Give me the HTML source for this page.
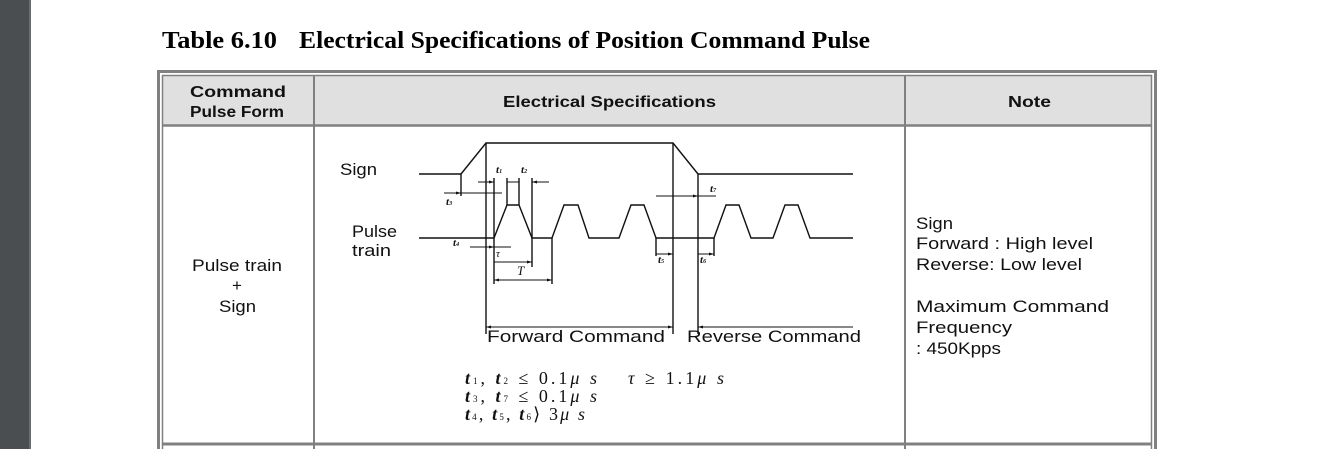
<!DOCTYPE html>
<html><head><meta charset="utf-8"><style>
html,body{margin:0;padding:0;background:#fff;}
svg{display:block;}
.s{font-family:"Liberation Sans",sans-serif;fill:#111;}
.i{font-family:"Liberation Serif",serif;font-style:italic;font-weight:bold;fill:#111;}
</style></head><body>
<svg width="1340" height="449" viewBox="0 0 1340 449" xmlns="http://www.w3.org/2000/svg">
<defs>
<marker id="a" viewBox="0 0 10 10" refX="10" refY="5" markerWidth="7" markerHeight="5" orient="auto-start-reverse"><path d="M0,2 L10,5 L0,8 z" fill="#111"/></marker>
</defs>
<rect x="0" y="0" width="29" height="449" fill="#4b4e51"/>
<rect x="29" y="0" width="2" height="449" fill="#6a6d70"/>
<g font-family="Liberation Serif,serif" font-weight="bold" font-size="24" fill="#000">
<text x="162" y="48" textLength="115" lengthAdjust="spacingAndGlyphs">Table 6.10</text>
<text x="299" y="48" textLength="571" lengthAdjust="spacingAndGlyphs">Electrical Specifications of Position Command Pulse</text>
</g>
<rect x="163" y="75" width="988" height="50" fill="#e0e0e0"/>
<rect x="158.5" y="71.5" width="997" height="390" fill="none" stroke="#808080" stroke-width="3"/>
<rect x="162.5" y="75.5" width="989" height="390" fill="none" stroke="#808080" stroke-width="1.5"/>
<line x1="163" y1="125.5" x2="1151" y2="125.5" stroke="#808080" stroke-width="2.5"/>
<line x1="314" y1="75" x2="314" y2="449" stroke="#808080" stroke-width="2"/>
<line x1="905" y1="75" x2="905" y2="449" stroke="#808080" stroke-width="2"/>
<line x1="163" y1="444" x2="1151" y2="444" stroke="#808080" stroke-width="3"/>
<g class="s" font-weight="bold" font-size="16">
<text x="190" y="97" textLength="96" lengthAdjust="spacingAndGlyphs">Command</text>
<text x="190" y="117" textLength="94" lengthAdjust="spacingAndGlyphs">Pulse Form</text>
<text x="503" y="107" textLength="213" lengthAdjust="spacingAndGlyphs">Electrical Specifications</text>
<text x="1008" y="107" textLength="43" lengthAdjust="spacingAndGlyphs">Note</text>
</g>
<g class="s" font-size="17">
<text x="192" y="271" textLength="90" lengthAdjust="spacingAndGlyphs">Pulse train</text>
<text x="232" y="291">+</text>
<text x="219" y="312" textLength="37" lengthAdjust="spacingAndGlyphs">Sign</text>
<text x="916" y="229" textLength="37" lengthAdjust="spacingAndGlyphs">Sign</text>
<text x="916" y="249" textLength="177" lengthAdjust="spacingAndGlyphs">Forward : High level</text>
<text x="916" y="270" textLength="166" lengthAdjust="spacingAndGlyphs">Reverse: Low level</text>
<text x="916" y="312" textLength="193" lengthAdjust="spacingAndGlyphs">Maximum Command</text>
<text x="916" y="333" textLength="96" lengthAdjust="spacingAndGlyphs">Frequency</text>
<text x="916" y="354" textLength="85" lengthAdjust="spacingAndGlyphs">: 450Kpps</text>
<text x="340" y="175" textLength="37" lengthAdjust="spacingAndGlyphs">Sign</text>
<text x="352" y="237" textLength="45" lengthAdjust="spacingAndGlyphs">Pulse</text>
<text x="352" y="256" textLength="39" lengthAdjust="spacingAndGlyphs">train</text>
<text x="487" y="342" textLength="178" lengthAdjust="spacingAndGlyphs">Forward Command</text>
<text x="687" y="342" textLength="174" lengthAdjust="spacingAndGlyphs">Reverse Command</text>
</g>
<g fill="none" stroke="#111" stroke-width="1.4">
<polyline points="419,174 461,174 486,143 673,143 698,174 853,174"/>
<polyline points="419,238 494,238 507,205 519,205 532,238 552,238 564,205 578,205 589,238 619,238 631,205 644,205 656,238 714,238 726,205 739,205 751,238 773,238 785,205 798,205 810,238 853,238"/>
<line x1="486" y1="143" x2="486" y2="334"/>
<line x1="673" y1="143" x2="673" y2="334"/>
<line x1="698" y1="174" x2="698" y2="334"/>
<line x1="494" y1="178" x2="494" y2="284"/>
<line x1="507" y1="178" x2="507" y2="205"/>
<line x1="519" y1="178" x2="519" y2="205"/>
<line x1="532" y1="178" x2="532" y2="267"/>
<line x1="552" y1="238" x2="552" y2="284"/>
<line x1="461" y1="174" x2="461" y2="196"/>
<line x1="656" y1="238" x2="656" y2="256"/>
<line x1="714" y1="238" x2="714" y2="256"/>
</g>
<g fill="none" stroke="#111" stroke-width="1">
<line x1="486" y1="327" x2="673" y2="327" marker-start="url(#a)" marker-end="url(#a)"/>
<line x1="853" y1="327" x2="698" y2="327" marker-end="url(#a)"/>
<line x1="444" y1="193" x2="461" y2="193" marker-end="url(#a)"/>
<line x1="461" y1="193" x2="502" y2="193"/>
<line x1="478" y1="182" x2="494" y2="182" marker-end="url(#a)"/>
<line x1="507" y1="182" x2="519" y2="182"/>
<line x1="549" y1="182" x2="532" y2="182" marker-end="url(#a)"/>
<line x1="470" y1="247" x2="494" y2="247" marker-end="url(#a)"/>
<line x1="494" y1="247" x2="511" y2="247"/>
<line x1="494" y1="262" x2="532" y2="262" marker-end="url(#a)"/>
<line x1="494" y1="280" x2="552" y2="280" marker-start="url(#a)" marker-end="url(#a)"/>
<line x1="656" y1="254" x2="673" y2="254" marker-end="url(#a)"/>
<line x1="698" y1="254" x2="714" y2="254" marker-end="url(#a)"/>
<line x1="656" y1="196" x2="698" y2="196" marker-end="url(#a)"/>
<line x1="716" y1="196" x2="698" y2="196"/>
</g>
<g class="i" font-size="11">
<text x="496" y="173">t<tspan font-size="6">1</tspan></text>
<text x="521" y="173">t<tspan font-size="6">2</tspan></text>
<text x="446" y="205">t<tspan font-size="6">3</tspan></text>
<text x="453" y="246">t<tspan font-size="6">4</tspan></text>
<text x="496" y="257" font-weight="normal">τ</text>
<text x="517" y="275" font-weight="normal" font-size="13">T</text>
<text x="658" y="263">t<tspan font-size="6">5</tspan></text>
<text x="700" y="263">t<tspan font-size="6">6</tspan></text>
<text x="710" y="192">t<tspan font-size="6">7</tspan></text>
</g>
<g font-family="Liberation Serif,serif" font-size="18" fill="#111">
<text x="465" y="384" textLength="132" lengthAdjust="spacing"><tspan font-style="italic" font-weight="bold">t</tspan><tspan font-size="9">1</tspan>, <tspan font-style="italic" font-weight="bold">t</tspan><tspan font-size="9">2</tspan> ≤  0.1<tspan font-style="italic">μ s</tspan></text>
<text x="628" y="384" textLength="96" lengthAdjust="spacing"><tspan font-style="italic">τ</tspan> ≥  1.1<tspan font-style="italic">μ s</tspan></text>
<text x="465" y="402" textLength="132" lengthAdjust="spacing"><tspan font-style="italic" font-weight="bold">t</tspan><tspan font-size="9">3</tspan>, <tspan font-style="italic" font-weight="bold">t</tspan><tspan font-size="9">7</tspan> ≤  0.1<tspan font-style="italic">μ s</tspan></text>
<text x="465" y="420" textLength="120" lengthAdjust="spacing"><tspan font-style="italic" font-weight="bold">t</tspan><tspan font-size="9">4</tspan>, <tspan font-style="italic" font-weight="bold">t</tspan><tspan font-size="9">5</tspan>, <tspan font-style="italic" font-weight="bold">t</tspan><tspan font-size="9">6</tspan>⟩ 3<tspan font-style="italic">μ s</tspan></text>
</g>
</svg>
</body></html>
